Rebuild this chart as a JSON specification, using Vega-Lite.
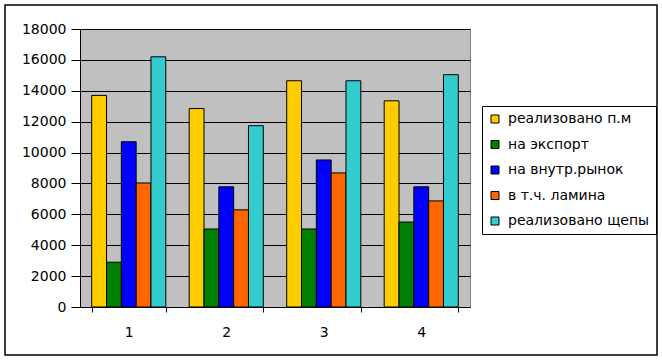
{
  "$schema": "https://vega.github.io/schema/vega-lite/v6.json",
  "width": 390,
  "height": 278,
  "autosize": {"type": "none"},
  "padding": {"left": 80, "top": 29, "right": 192, "bottom": 53},
  "background": "white",
  "config": {
    "font": "DejaVu Sans",
    "view": {"fill": "#C0C0C0", "stroke": "#808080", "strokeWidth": 1},
    "axis": {"labelFont": "DejaVu Sans", "labelFontSize": 14, "labelColor": "black", "domainColor": "black", "tickColor": "black", "title": null}
  },
  "layer": [
    {
      "data": {"values": [{}]},
      "mark": {"type": "rect", "fill": null, "stroke": "black", "strokeWidth": 1.5, "clip": false},
      "encoding": {
        "x": {"value": -75},
        "x2": {"value": 577},
        "y": {"value": -24},
        "y2": {"value": 326}
      }
    },
    {
      "data": {
        "values": [
          {"group": "1", "series": "реализовано п.м", "value": 13700},
          {"group": "1", "series": "на экспорт", "value": 2900},
          {"group": "1", "series": "на внутр.рынок", "value": 10700},
          {"group": "1", "series": "в т.ч. ламина", "value": 8030},
          {"group": "1", "series": "реализовано щепы", "value": 16200},
          {"group": "2", "series": "реализовано п.м", "value": 12850},
          {"group": "2", "series": "на экспорт", "value": 5050},
          {"group": "2", "series": "на внутр.рынок", "value": 7780},
          {"group": "2", "series": "в т.ч. ламина", "value": 6290},
          {"group": "2", "series": "реализовано щепы", "value": 11740},
          {"group": "3", "series": "реализовано п.м", "value": 14650},
          {"group": "3", "series": "на экспорт", "value": 5050},
          {"group": "3", "series": "на внутр.рынок", "value": 9520},
          {"group": "3", "series": "в т.ч. ламина", "value": 8680},
          {"group": "3", "series": "реализовано щепы", "value": 14650},
          {"group": "4", "series": "реализовано п.м", "value": 13350},
          {"group": "4", "series": "на экспорт", "value": 5500},
          {"group": "4", "series": "на внутр.рынок", "value": 7780},
          {"group": "4", "series": "в т.ч. ламина", "value": 6870},
          {"group": "4", "series": "реализовано щепы", "value": 15040}
        ]
      },
      "mark": {"type": "bar", "stroke": "black", "strokeWidth": 1},
      "encoding": {
        "x": {
          "field": "group",
          "type": "nominal",
          "scale": {"paddingInner": 0.24, "paddingOuter": 0.12},
          "axis": {"labelAngle": 0, "tickBand": "extent", "tickSize": 5, "labelPadding": 13, "domainWidth": 1}
        },
        "xOffset": {
          "field": "series",
          "type": "nominal",
          "scale": {"domain": ["реализовано п.м", "на экспорт", "на внутр.рынок", "в т.ч. ламина", "реализовано щепы"], "padding": 0}
        },
        "y": {
          "field": "value",
          "type": "quantitative",
          "scale": {"domain": [0, 18000], "nice": false},
          "axis": {"values": [0, 2000, 4000, 6000, 8000, 10000, 12000, 14000, 16000, 18000], "format": "d", "grid": true, "gridColor": "black", "gridWidth": 1, "gridOpacity": 1, "tickSize": 9, "labelPadding": 5}
        },
        "color": {
          "field": "series",
          "type": "nominal",
          "scale": {
            "domain": ["реализовано п.м", "на экспорт", "на внутр.рынок", "в т.ч. ламина", "реализовано щепы"],
            "range": ["#FFCC00", "#008000", "#0000FF", "#FF6600", "#33CCCC"]
          },
          "legend": {
            "title": null,
            "orient": "none",
            "legendX": 402,
            "legendY": 77,
            "strokeColor": "black",
            "fillColor": "white",
            "padding": 6,
            "symbolType": "square",
            "symbolSize": 64,
            "symbolStrokeColor": "black",
            "symbolStrokeWidth": 1,
            "symbolOpacity": 1,
            "labelFont": "DejaVu Sans",
            "labelFontSize": 14,
            "labelColor": "black",
            "labelOffset": 6,
            "rowPadding": 11.5,
            "labelLimit": 300
          }
        }
      }
    }
  ]
}
